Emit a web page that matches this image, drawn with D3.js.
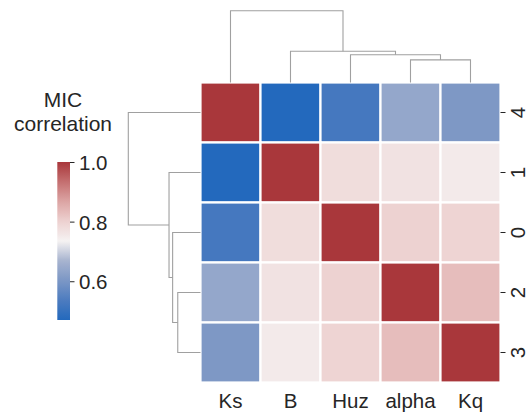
<!DOCTYPE html>
<html><head><meta charset="utf-8">
<script src="https://cdn.jsdelivr.net/npm/d3@7"></script>
<style>body{margin:0;background:#fff} text{font-family:"Liberation Sans",Arial,sans-serif;fill:#262626}</style>
</head><body><svg id="c" width="528" height="420"></svg>
<script>
// ---- data ----
const colLabels = ["Ks", "B", "Huz", "alpha", "Kq"];
const rowLabels = ["4", "1", "0", "2", "3"];
const micKs    = [1.00, 0.470, 0.523, 0.640, 0.605];
const micB     = [0.470, 1.00, 0.777, 0.767, 0.751];
const micHuz   = [0.523, 0.777, 1.00, 0.799, 0.796];
const micAlpha = [0.640, 0.767, 0.799, 1.00, 0.830];
const micKq    = [0.605, 0.751, 0.796, 0.830, 1.00];
const micRows = [micKs, micB, micHuz, micAlpha, micKq];
const colorbarTicks = [0.6, 0.8, 1.0];
const vmin = 0.47, vmax = 1.0;
// linkage (leaf positions 0..4, clusters 5..): [left, right, height]
const linkLeft   = [3, 2, 1, 0];
const linkRight  = [4, 5, 6, 7];
const linkHeight = [0.315, 0.386, 0.436, 1.0];
// vlag-like colormap stops
const vlagT = [0, 0.125, 0.25, 0.375, 0.5, 0.625, 0.75, 0.875, 1];
const vlagColors = ["#2369bd", "#4d7cbf", "#7c97c5", "#a7b3cf", "#f5f2f2",
                    "#edd1d0", "#dca4a3", "#c46f70", "#a9373b"];

// ---- drawing ----
const svg = d3.select("#c");
const color = d3.scaleLinear()
  .domain(vlagT.map(t => vmin + t * (vmax - vmin)))
  .range(vlagColors).interpolate(d3.interpolateRgb).clamp(true);

const x = d3.scaleBand().domain(colLabels).range([200.5, 500.5]);
const y = d3.scaleBand().domain(rowLabels).range([82.5, 382.5]);

const cells = [];
micRows.forEach((row, i) => row.forEach((v, j) => cells.push({r: rowLabels[i], c: colLabels[j], v})));
svg.append("g").selectAll("rect").data(cells).join("rect")
  .attr("x", d => x(d.c)).attr("y", d => y(d.r))
  .attr("width", x.bandwidth()).attr("height", y.bandwidth())
  .attr("fill", d => color(d.v))
  .attr("stroke", "#fff").attr("stroke-width", 2.2);

// right axis (row labels)
const ra = svg.append("g").attr("transform", "translate(500.5,0)")
  .call(d3.axisRight(y).tickSize(5).tickPadding(0));
ra.select(".domain").remove();
ra.selectAll(".tick line").attr("stroke", "#262626").attr("stroke-width", 1);
ra.selectAll(".tick text").attr("font-size", 20.5)
  .attr("x", 0).attr("dy", 0)
  .attr("text-anchor", "middle")
  .attr("transform", "translate(24.5,0) rotate(-90)");

// bottom labels (no ticks)
const ba = svg.append("g").attr("transform", "translate(0,382.5)")
  .call(d3.axisBottom(x).tickSize(0).tickPadding(0));
ba.select(".domain").remove();
ba.selectAll(".tick text").attr("font-size", 20.5).attr("y", 25).attr("dy", 0);

// dendrograms
function dendro(leafPos, hScale, vertical) {
  const pos = leafPos.slice(), hts = leafPos.map(() => 0);
  const segs = [];
  linkHeight.forEach((h, k) => {
    const a = linkLeft[k], b = linkRight[k];
    segs.push([[pos[a], hts[a]], [pos[a], h], [pos[b], h], [pos[b], hts[b]]]);
    pos.push((pos[a] + pos[b]) / 2); hts.push(h);
  });
  const line = d3.line()
    .x(p => vertical ? p[0] : hScale(p[1]))
    .y(p => vertical ? hScale(p[1]) : p[0]);
  svg.append("g").selectAll("path").data(segs).join("path")
    .attr("d", line).attr("fill", "none")
    .attr("stroke", "#a0a0a0").attr("stroke-width", 1.1);
}
dendro(colLabels.map(c => x(c) + x.bandwidth() / 2),
       d3.scaleLinear().domain([0, 1]).range([82.5, 10.7]), true);
dendro(rowLabels.map(r => y(r) + y.bandwidth() / 2),
       d3.scaleLinear().domain([0, 1]).range([200.5, 128.3]), false);

// colorbar
const cb = d3.scaleLinear().domain([vmin, vmax]).range([320, 162]);
const grad = svg.append("defs").append("linearGradient").attr("id", "g")
  .attr("x1", 0).attr("y1", 1).attr("x2", 0).attr("y2", 0);
d3.range(0, 1.0001, 0.02).forEach(t => grad.append("stop")
  .attr("offset", t).attr("stop-color", color(vmin + t * (vmax - vmin))));
svg.append("rect").attr("x", 57.3).attr("y", cb(vmax)).attr("width", 12.7)
  .attr("height", cb(vmin) - cb(vmax)).attr("fill", "url(#g)");
const ca = svg.append("g").attr("transform", "translate(70,0)")
  .call(d3.axisRight(cb).tickValues(colorbarTicks).tickFormat(d3.format(".1f")).tickSize(4.5).tickPadding(4.5));
ca.select(".domain").remove();
ca.selectAll(".tick line").attr("stroke", "#262626");
ca.selectAll(".tick text").attr("font-size", 20.5).attr("dy", "0.36em");

// colorbar title
svg.append("text").attr("x", 63).attr("y", 107).attr("text-anchor", "middle")
  .attr("font-size", 21).text("MIC");
svg.append("text").attr("x", 63).attr("y", 130.5).attr("text-anchor", "middle")
  .attr("font-size", 21).text("correlation");
</script></body></html>
